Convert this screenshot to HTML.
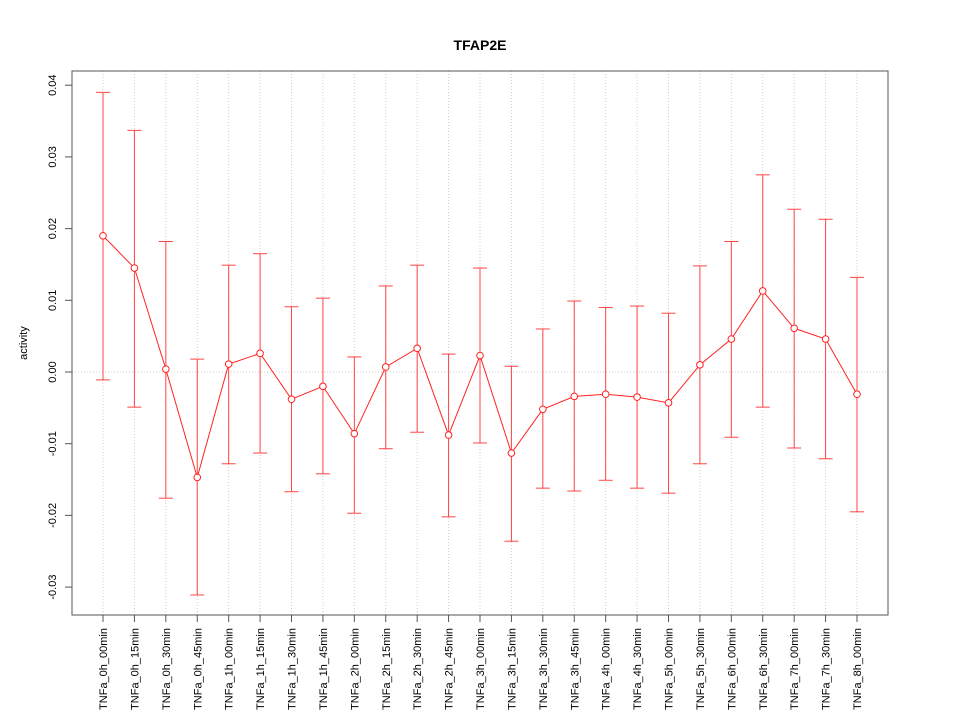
<!DOCTYPE html>
<html><head><meta charset="utf-8"><style>
body{margin:0;background:#fff;}
svg text{font-family:"Liberation Sans",sans-serif;}
</style></head><body>
<svg id="chart" width="960" height="720" xmlns="http://www.w3.org/2000/svg">
<rect width="960" height="720" fill="#fff"/>
<text x="480" y="50" text-anchor="middle" font-size="14" font-weight="bold">TFAP2E</text>
<text transform="translate(27,343) rotate(-90)" text-anchor="middle" font-size="11">activity</text>
<g id="grid"></g><g id="axes"></g><g id="marks"></g>
<rect x="72" y="71" width="816" height="544" fill="none" stroke="#555" stroke-width="1"/>
</svg>
<script>
const categories=["TNFa_0h_00min","TNFa_0h_15min","TNFa_0h_30min","TNFa_0h_45min","TNFa_1h_00min","TNFa_1h_15min","TNFa_1h_30min","TNFa_1h_45min","TNFa_2h_00min","TNFa_2h_15min","TNFa_2h_30min","TNFa_2h_45min","TNFa_3h_00min","TNFa_3h_15min","TNFa_3h_30min","TNFa_3h_45min","TNFa_4h_00min","TNFa_4h_30min","TNFa_5h_00min","TNFa_5h_30min","TNFa_6h_00min","TNFa_6h_30min","TNFa_7h_00min","TNFa_7h_30min","TNFa_8h_00min"];
const values=[0.0190,0.0145,0.0004,-0.0147,0.0011,0.0026,-0.0038,-0.0020,-0.0086,0.0007,0.0033,-0.0088,0.0023,-0.0113,-0.0052,-0.0034,-0.0031,-0.0035,-0.0043,0.0010,0.0046,0.0113,0.0061,0.0046,-0.0031];
const upper=[0.0390,0.0337,0.0182,0.0018,0.0149,0.0165,0.0091,0.0103,0.0021,0.0120,0.0149,0.0025,0.0145,0.0008,0.0060,0.0099,0.0090,0.0092,0.0082,0.0148,0.0182,0.0275,0.0227,0.0213,0.0132];
const lower=[-0.0011,-0.0049,-0.0176,-0.0311,-0.0128,-0.0113,-0.0167,-0.0142,-0.0197,-0.0107,-0.0084,-0.0202,-0.0099,-0.0236,-0.0162,-0.0166,-0.0151,-0.0162,-0.0169,-0.0128,-0.0091,-0.0049,-0.0106,-0.0121,-0.0195];
const yTicks=[-0.03,-0.02,-0.01,0.00,0.01,0.02,0.03,0.04];
const yTickLabels=["-0.03","-0.02","-0.01","0.00","0.01","0.02","0.03","0.04"];
const NS="http://www.w3.org/2000/svg";
function X(i){return 103+i*(857-103)/(categories.length-1);}
function Y(v){return 372-v*7170;}
function mk(p,t,a){const e=document.createElementNS(NS,t);for(const k in a)e.setAttribute(k,a[k]);p.appendChild(e);return e;}
const grid=document.getElementById('grid'),axes=document.getElementById('axes'),marks=document.getElementById('marks');
categories.forEach((c,i)=>{
 const g=mk(grid,'line',{x1:X(i),x2:X(i),y1:71,y2:615,stroke:'#ccc','stroke-dasharray':'1,2'});
 
 
 const t=mk(axes,'line',{x1:X(i),x2:X(i),y1:615,y2:622,stroke:'#555'});
 
 
 const l=mk(axes,'text',{transform:`translate(${X(i)+4},628) rotate(-90)`,'text-anchor':'end','font-size':'11'});
 l.textContent=c;
 
 
});
const z=mk(grid,'line',{x1:72,x2:888,y1:Y(0),y2:Y(0),stroke:'#ccc','stroke-dasharray':'1,2'});


yTicks.forEach((v,i)=>{
 const t=mk(axes,'line',{x1:65,x2:72,y1:Y(v),y2:Y(v),stroke:'#555'});
 
 
 const l=mk(axes,'text',{transform:`translate(56,${Y(v)}) rotate(-90)`,'text-anchor':'middle','font-size':'11'});
 l.textContent=yTickLabels[i];
 
 
});
categories.forEach((c,i)=>{
 const b=mk(marks,'line',{x1:X(i),x2:X(i),y1:Y(upper[i]),y2:Y(lower[i]),stroke:'#f44'});
 
 
 [upper[i],lower[i]].forEach(v=>{
  const cp=mk(marks,'line',{x1:X(i)-7,x2:X(i)+7,y1:Y(v),y2:Y(v),stroke:'#f44'});
  
  
 });
});
const pl=mk(marks,'polyline',{points:values.map((v,i)=>X(i)+','+Y(v)).join(' '),fill:'none',stroke:'#f22'});


values.forEach((v,i)=>{
 const p=mk(marks,'circle',{cx:X(i),cy:Y(v),r:3.3,fill:'#fff',stroke:'#f22'});
 
 
});
</script>
</body></html>
